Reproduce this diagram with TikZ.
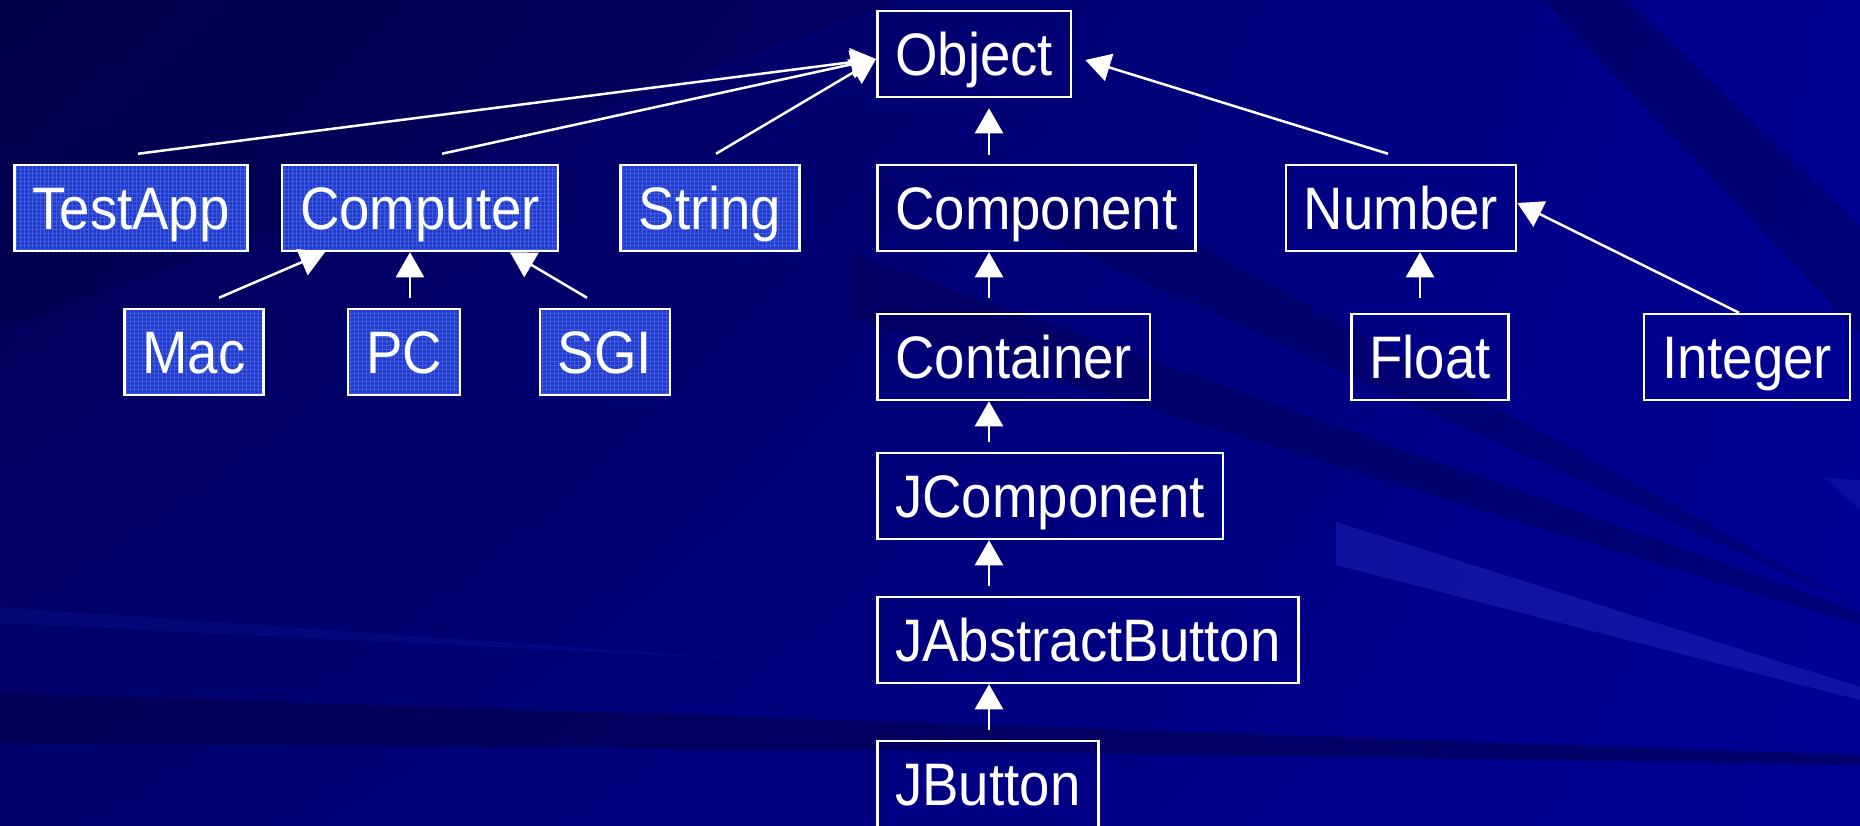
\documentclass[tikz,border=0pt]{standalone}
\usepackage{fontspec}
\setmainfont[FakeStretch=0.91]{Liberation Sans}
\usetikzlibrary{arrows.meta,shadings}

\definecolor{bgtl}{RGB}{0,0,78}
\definecolor{bgtr}{RGB}{0,0,145}
\definecolor{bgbl}{RGB}{0,0,112}
\definecolor{bgbr}{RGB}{0,0,150}
\definecolor{streakdark}{RGB}{0,0,60}
\definecolor{streaklight}{RGB}{45,45,200}
\definecolor{boxblue}{RGB}{34,58,200}
\definecolor{boxgrid}{RGB}{62,92,228}

\begin{document}
\begin{tikzpicture}[x=1pt, y=-1pt, color=white, line width=2.5pt,
    -{Triangle[length=25pt,width=28pt]}]
   \tikzstyle{cls}=[draw=white, line width=2.5pt, text=white, minimum height=86pt,
      inner xsep=18pt, text height=43pt, text depth=0pt,
      font=\fontsize{60}{62}\selectfont]
   \tikzstyle{usr}=[cls, fill=boxblue, path picture={
      \draw[-, boxgrid, line width=.6pt, step=4pt]
         (path picture bounding box.south west) grid (path picture bounding box.north east);}]

   % slide background with its streaks
   \useasboundingbox (0,0) rectangle (1860,825);
   \shade[upper left=bgtl, upper right=bgtr, lower left=bgbl, lower right=bgbr]
      (0,0) rectangle (1860,825);
   \fill[streakdark, opacity=.25] (0,0) -- (900,0) -- (0,330) -- cycle;
   \fill[streakdark, opacity=.3] (850,253) -- (1860,612) -- (1860,625) -- (850,318) -- cycle;
   \fill[streakdark, opacity=.25] (964,200) -- (1117,200) -- (1860,607) -- cycle;
   \fill[streakdark, opacity=.3] (1543,0) -- (1627,0) -- (1860,226) -- (1860,334) -- cycle;
   \fill[streakdark, opacity=.45] (0,693) -- (900,722) -- (1860,755) -- (1860,765)
      -- (900,750) -- (0,743) -- cycle;
   \fill[streaklight, opacity=.4] (1336,522) -- (1860,687) -- (1860,700) -- (1336,565) -- cycle;
   \fill[streaklight, opacity=.3] (1825,478) -- (1860,480) -- (1860,510) -- cycle;
   \fill[streaklight, opacity=.15] (0,607) -- (760,660) -- (0,623) -- cycle;

   % classes
   \node[cls, anchor=west] (object) at (876,54) {Object};
   \node[usr] (testapp) at (131,208) {TestApp};
   \node[usr] (computer) at (420,208) {Computer};
   \node[usr] (string) at (710,208) {String};
   \node[cls, anchor=west] (component) at (876,208) {Component};
   \node[cls] (number) at (1401,208) {Number};
   \node[usr] (mac) at (194,352) {Mac};
   \node[usr] (pc) at (404,352) {PC};
   \node[usr] (sgi) at (605,352) {SGI};
   \node[cls, anchor=west] (container) at (876,357) {Container};
   \node[cls] (float) at (1430,357) {Float};
   \node[cls] (integer) at (1747,357) {Integer};
   \node[cls, anchor=west] (jcomponent) at (876,496) {JComponent};
   \node[cls, anchor=west] (jabstract) at (876,640) {JAbstractButton};
   \node[cls, anchor=west] (jbutton) at (876,784) {JButton};

   % inheritance links
   \foreach \n/\dx in {testapp/7, computer/22, string/6}
      \path ([xshift=\dx pt, yshift=10pt]\n.north) edge ([yshift=-5pt]object.west);
   \path ([xshift=-13pt, yshift=10pt]number.north) edge ([xshift=13pt, yshift=-6pt]object.east);
   \path ([xshift=25pt, yshift=10pt]mac.north) edge ([xshift=-95pt]computer.south);
   \path ([xshift=6pt, yshift=10pt]pc.north) edge ([xshift=-10pt]computer.south);
   \path ([xshift=-18pt, yshift=10pt]sgi.north) edge ([xshift=90pt]computer.south);
   \path ([xshift=-10pt, yshift=15pt]float.north) edge ([xshift=19pt]number.south);
   \path ([xshift=-8pt]integer.north) edge ([yshift=5pt]number.east);
   \coordinate (trunk) at (989,0);
   \path (component.north -| trunk) edge[shorten <=9pt, shorten >=10pt] (object.south -| trunk);
   \path (container.north -| trunk) edge[shorten <=15pt] (component.south -| trunk);
   \foreach \a/\b in {jcomponent/container, jabstract/jcomponent, jbutton/jabstract}
      \path (\a.north -| trunk) edge[shorten <=10pt] (\b.south -| trunk);
\end{tikzpicture}
\end{document}
